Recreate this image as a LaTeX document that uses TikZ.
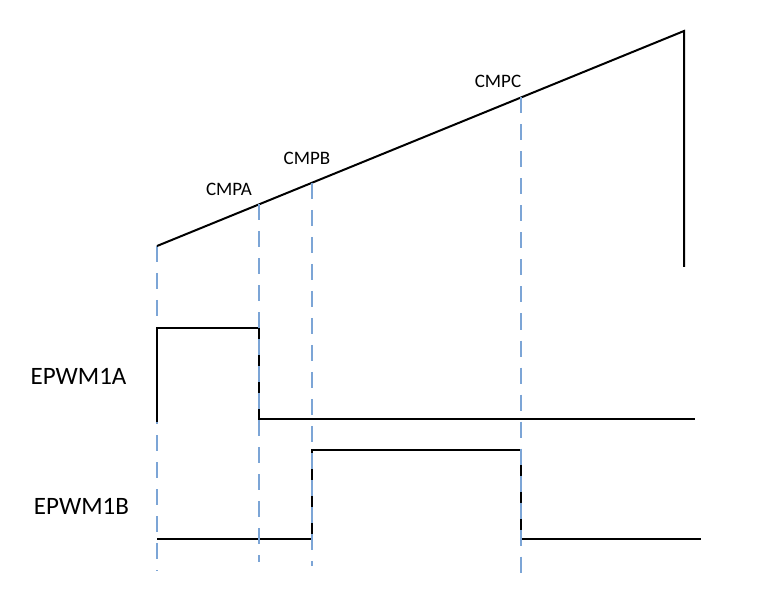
\documentclass[tikz,border=0pt]{standalone}
\usepackage{fontspec}
\setmainfont{Carlito}
\begin{document}
\begin{tikzpicture}[x=1pt,y=-1pt,
  wave/.style={line width=2pt,black,line cap=butt,line join=miter},
  guide/.style={line width=2.3pt,draw=guideblue,dash pattern=on 16pt off 11pt},
  cmplabel/.style={inner sep=0pt,font=\fontsize{19}{22}\selectfont},
  siglabel/.style={inner sep=0pt,font=\fontsize{25}{30}\selectfont}]
\definecolor{guideblue}{RGB}{124,165,214}
\useasboundingbox (0,0) rectangle (769,604);
% ramp
\coordinate (r0) at (157,246);
\coordinate (rtop) at (684,31);
\coordinate (rbot) at (684,267);
\coordinate (ra) at (259,204.4);
\coordinate (rb) at (312,182.8);
\coordinate (rc) at (521,97.5);
\coordinate (g0) at (157,571);
\coordinate (ga) at (259,562);
\coordinate (gb) at (312,566);
\coordinate (gc) at (521,578);
% first guide lies under the waveform
\draw[guide] (r0) -- (g0);
\draw[wave] (r0) -- (rtop) -- (rbot);
% EPWM1A
\coordinate (a0) at (157,422);
\coordinate (a1) at (157,328);
\coordinate (a2) at (259,328);
\coordinate (a3) at (259,419);
\coordinate (a4) at (695,419);
\draw[wave] (a0) -- (a1) -- (a2) -- (a3) -- (a4);
% EPWM1B
\coordinate (b0) at (157,539);
\coordinate (b1) at (312,539);
\coordinate (b2) at (312,450);
\coordinate (b3) at (521,450);
\coordinate (b4) at (521,539);
\coordinate (b5) at (701,539);
\draw[wave] (b0) -- (b1) -- (b2) -- (b3) -- (b4) -- (b5);
% other guides on top
\draw[guide] (ra) -- (ga);
\draw[guide] (rb) -- (gb);
\draw[guide] (rc) -- (gc);
% labels
\node[cmplabel] (cmpa) at (229,189) {CMPA};
\node[cmplabel] (cmpb) at (307,158.5) {CMPB};
\node[cmplabel] (cmpc) at (498,81) {CMPC};
\node[siglabel] (epa) at (78.5,376) {EPWM1A};
\node[siglabel] (epb) at (81.5,506) {EPWM1B};
\end{tikzpicture}
\end{document}
